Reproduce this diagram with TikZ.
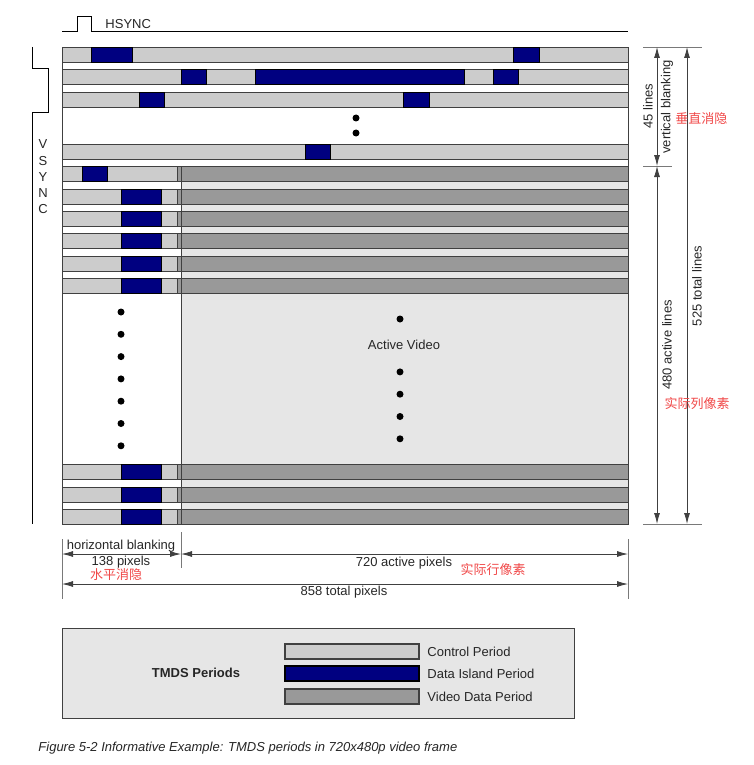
\documentclass[tikz,border=0pt]{standalone}
\usepackage{fontspec}
\setmainfont{Liberation Sans}
\newfontfamily\cjk{Noto Sans CJK SC}
\usetikzlibrary{arrows.meta}
\definecolor{ctrlgray}{HTML}{CCCCCC}
\definecolor{island}{HTML}{000080}
\definecolor{video}{HTML}{999999}
\definecolor{activebg}{HTML}{E6E6E6}
\definecolor{edge}{HTML}{404040}
\definecolor{cnred}{HTML}{F04848}
\newcommand\lblsize{\fontsize{13}{15}\selectfont}
\begin{document}
\begin{tikzpicture}
  [x=1pt,y=-1pt,line width=0.9pt,
   every node/.style={inner sep=0pt,font=\lblsize,text=black!85},
   ctrl/.style={fill=ctrlgray,draw=edge},
   isl/.style={fill=island,draw=black},
   vid/.style={fill=video,draw=edge},
   dim/.style={draw=edge,line width=0.8pt,{Latex[length=11pt,width=6pt]}-{Latex[length=11pt,width=6pt]}},
   tick/.style={draw=edge!70,line width=0.9pt},
   cn/.style={font=\lblsize\cjk,text=cnred},
   dot/.style={circle,fill=black,minimum size=7pt}]
  \useasboundingbox (0,0) rectangle (754,765);

  % frame and active area
  \fill[activebg] (181,166) rectangle (628,524);
  \draw[edge] (62,47) rectangle (628,524);

  % vertical blanking lines
  \foreach \y in {47,69,92,144}
    \draw[ctrl] (62,\y) rectangle (628,\y+15);
  \foreach \y/\a/\b in {47/91/132,47/513/539,69/181/206,69/255/464,69/493/518,
                        92/139/164,92/403/429,144/305/330}
    \draw[isl] (\a,\y) rectangle (\b,\y+15);

  % active lines
  \foreach \y in {166,189,211,233,256,278,464,487,509} {
    \draw[ctrl] (62,\y) rectangle (177,\y+15);
    \draw[vid] (177,\y) rectangle (181,\y+15);
    \draw[vid] (181,\y) rectangle (628,\y+15);
  }
  \draw[isl] (82,166) rectangle (107,181);
  \foreach \y in {189,211,233,256,278,464,487,509}
    \draw[isl] (121,\y) rectangle (161,\y+15);
  \draw[edge] (181,166) -- (181,524);

  % dots
  \node[dot] (vd1) at (356,118) {};
  \node[dot] (vd2) at (356,133) {};
  \foreach \i in {0,...,6}
    \node[dot] (hd\i) at (121,312+22.3*\i) {};
  \node[dot] (ad0) at (400,319) {};
  \foreach \i in {1,...,4}
    \node[dot] (ad\i) at (400,349.6+22.3*\i) {};
  \node (active) at (404,345) {Active Video};

  % sync signals
  \draw[line width=1pt] (62,32) -- (77,32) -- (77,17) -- (91,17) -- (91,32) -- (628,32);
  \node[anchor=west] (hsync) at (105,24) {HSYNC};
  \draw[line width=1pt] (32,47) -- (32,69) -- (48,69) -- (48,113) -- (32,113) -- (32,524);
  \foreach \c [count=\i] in {V,S,Y,N,C}
    \node (vs\i) at (43,128+16.3*\i) {\c};

  % dimensions
  \coordinate (vb1) at (657,47);
  \coordinate (vb2) at (657,166);
  \coordinate (vb3) at (657,524);
  \coordinate (tl1) at (687,47);
  \coordinate (tl2) at (687,524);
  \coordinate (hp1) at (62,554);
  \coordinate (hp2) at (181,554);
  \coordinate (hp3) at (628,554);
  \coordinate (tp1) at (62,584);
  \coordinate (tp2) at (628,584);
  \draw[tick] (643,47) -- (702,47);
  \draw[tick] (643,166) -- (672,166);
  \draw[tick] (643,524) -- (702,524);
  \draw[tick] (62,539) -- (62,599);
  \draw[tick] (181,532) -- (181,568);
  \draw[tick] (628,539) -- (628,599);
  \foreach \from/\to in {vb1/vb2,vb2/vb3,tl1/tl2,hp1/hp2,hp2/hp3,tp1/tp2}
    \draw[dim] (\from) -- (\to);

  \node[rotate=90] (lines45) at (648,106) {45 lines};
  \node[rotate=90] (vblank) at (667,107) {vertical blanking};
  \node[cn,anchor=west] (cnv) at (675,119) {垂直消隐};
  \node[rotate=90] (act480) at (667,345) {480 active lines};
  \node[rotate=90] (tot525) at (697,286) {525 total lines};
  \node[cn] (cnl) at (697,404) {实际列像素};
  \node (hblank) at (121,546) {horizontal blanking};
  \node (px138) at (121,562) {138 pixels};
  \node[cn] (cnh) at (116,575) {水平消隐};
  \node (px720) at (404,563) {720 active pixels};
  \node[cn] (cnp) at (493,570) {实际行像素};
  \node (px858) at (344,592) {858 total pixels};

  % legend
  \draw[edge,fill=activebg,line width=1pt] (62,628) rectangle (574,718);
  \node[font=\lblsize\bfseries] (tmds) at (196,673) {TMDS Periods};
  \foreach \y/\s/\t [count=\i] in {644/ctrl/Control Period,666/isl/Data Island Period,
                                   689/vid/Video Data Period} {
    \draw[\s,line width=1.2pt] (285,\y) rectangle (419,\y+15);
    \node[anchor=west] (key\i) at (427,\y+7.5) {\t};
  }

  \node[anchor=west,font=\lblsize\itshape] (caption) at (38,748)
    {Figure 5-2 Informative Example: TMDS periods in 720x480p video frame};
\end{tikzpicture}
\end{document}
